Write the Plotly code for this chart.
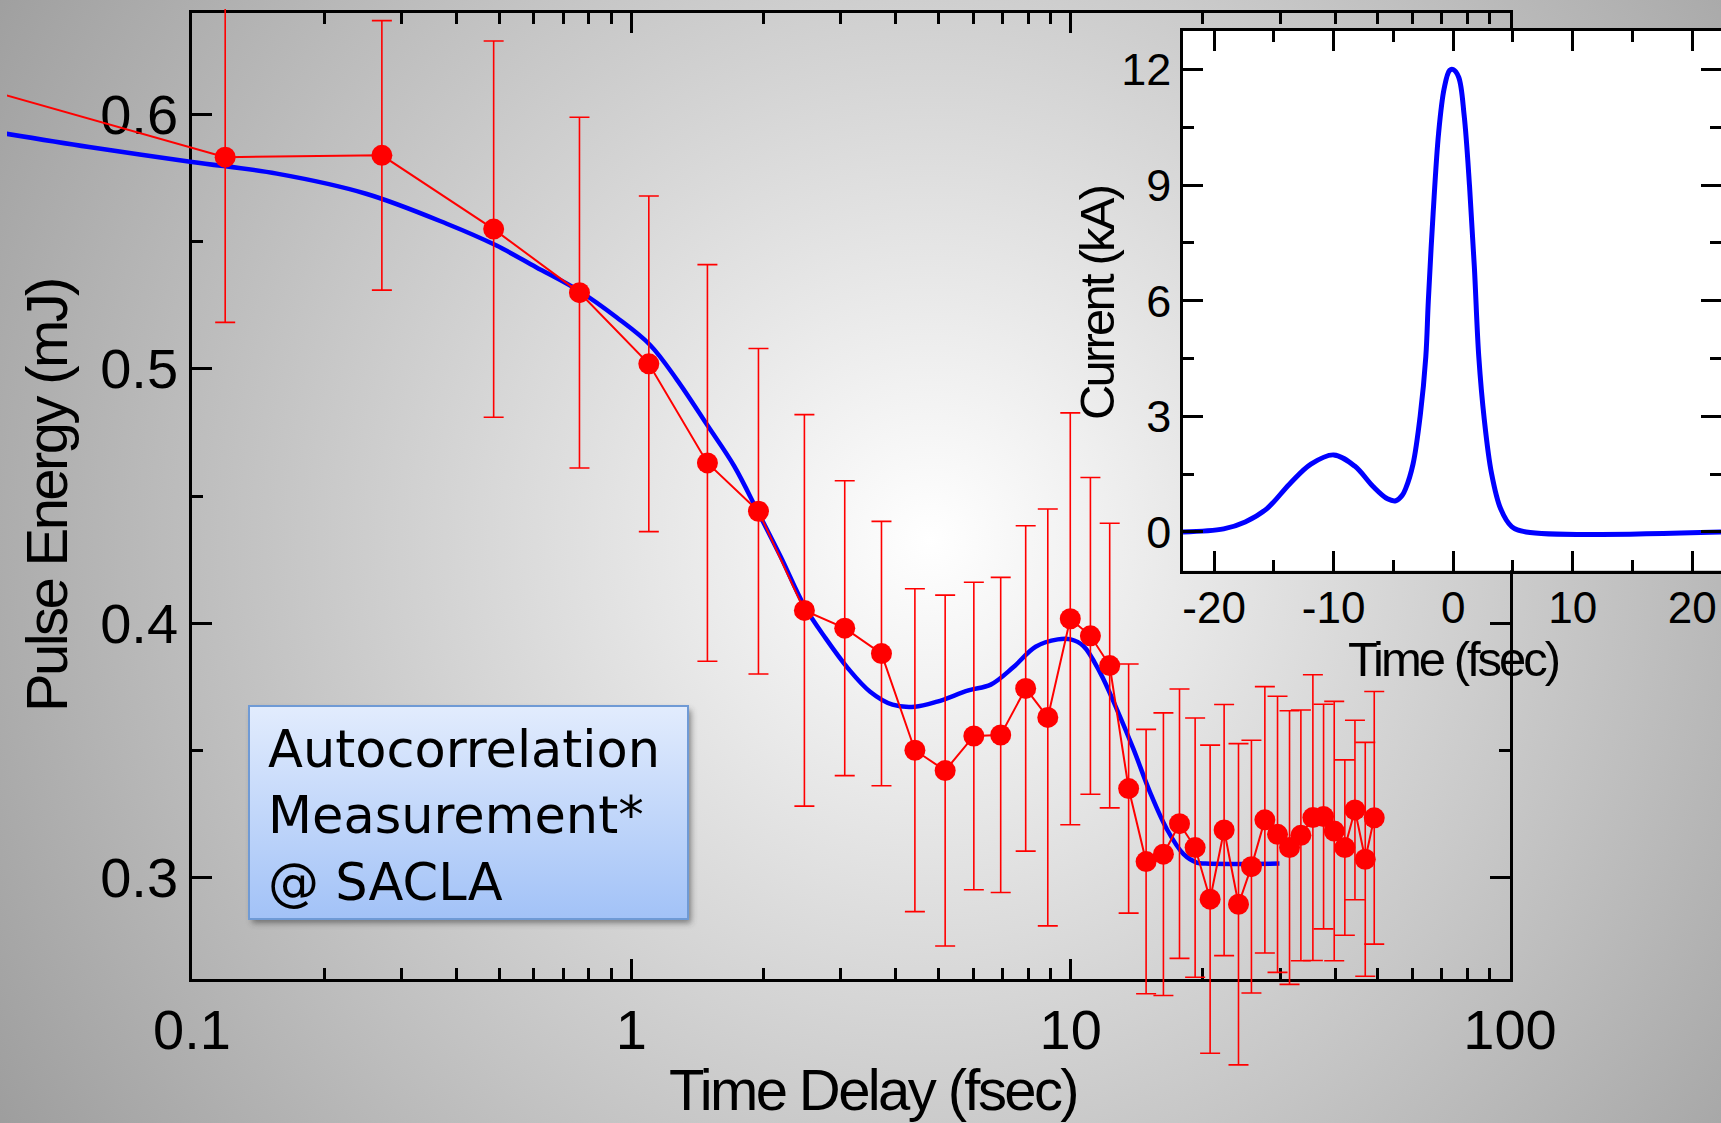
import base64
import plotly.graph_objects as go

# ---------------- data ----------------
# measured pulse energy vs. time delay (autocorrelation scan)
delay_fs = [0.030, 0.119, 0.2705, 0.486, 0.762, 1.096, 1.49, 1.947, 2.477, 3.06,
            3.71, 4.42, 5.18, 6.02, 6.93, 7.90, 8.87, 9.98, 11.09, 12.27,
            13.55, 14.85, 16.26, 17.69, 19.20, 20.77, 22.35, 24.10, 25.79, 27.67,
            29.57, 31.49, 33.42, 35.59, 37.64, 39.80, 42.08, 44.37, 46.83, 49.09]
pulse_mj = [0.6125, 0.5833, 0.584, 0.555, 0.530, 0.502, 0.463, 0.444, 0.405, 0.398,
            0.388, 0.350, 0.342, 0.3556, 0.356, 0.3743, 0.3629, 0.4017, 0.395, 0.3833,
            0.3349, 0.3062, 0.3091, 0.3211, 0.3117, 0.2914, 0.3186, 0.2894, 0.3042, 0.3226,
            0.3169, 0.3117, 0.3165, 0.3235, 0.3239, 0.3182, 0.3117, 0.3265, 0.3071, 0.3234]
pulse_err = [0.065, 0.065, 0.053, 0.074, 0.069, 0.066, 0.078, 0.064, 0.077, 0.058,
             0.052, 0.0635, 0.069, 0.0605, 0.062, 0.064, 0.082, 0.081, 0.0623, 0.056,
             0.049, 0.052, 0.0556, 0.053, 0.051, 0.0606, 0.0494, 0.0632, 0.0497, 0.0524,
             0.0543, 0.0538, 0.0493, 0.0562, 0.0442, 0.051, 0.0345, 0.0353, 0.046, 0.0497]

# simulated pulse energy from the current profile
model_fs = [0.0378, 0.0583, 0.100, 0.156, 0.249, 0.380, 0.492, 0.607, 0.762, 0.925,
            1.102, 1.268, 1.494, 1.714, 1.945, 2.188, 2.477, 2.767, 3.110, 3.496,
            3.931, 4.418, 4.968, 5.853, 6.58, 7.40, 8.32, 9.35, 10.0, 10.69,
            11.67, 12.74, 13.90, 15.17, 16.56, 18.07, 19.36, 20.3, 29.87]
model_mj = [0.5925, 0.5873, 0.5814, 0.5768, 0.5689, 0.5571, 0.5486, 0.5400, 0.5306, 0.5203,
            0.5095, 0.4959, 0.4775, 0.4618, 0.4435, 0.4261, 0.4067, 0.3941, 0.3823, 0.3730,
            0.3679, 0.3671, 0.3691, 0.3735, 0.3758, 0.3826, 0.3907, 0.3936, 0.3936, 0.3910,
            0.3805, 0.3661, 0.3504, 0.3333, 0.3189, 0.3091, 0.3058, 0.3054, 0.3054]

# electron bunch current profile (inset)
time_fs = [-22.6, -19.2, -17.4, -15.6, -13.7, -11.9, -10.0, -8.24, -6.7, -5.5,
           -4.8, -4.27, -3.97, -3.36, -2.75, -2.29, -2.08, -1.68, -1.22, -0.76,
           -0.3, 0.0, 0.46, 0.92, 1.37, 1.77, 2.14, 2.6, 3.2, 3.97,
           4.89, 6.1, 22.4]
current_ka = [0.0, 0.08, 0.26, 0.6, 1.24, 1.76, 2.0, 1.71, 1.18, 0.86,
              0.81, 0.95, 1.13, 1.76, 3.04, 4.55, 6.0, 8.26, 10.35, 11.5,
              11.98, 12.0, 11.8, 10.8, 8.96, 6.87, 4.55, 2.92, 1.53, 0.6,
              0.14, 0.0, 0.0]

main_xticks = [0.1, 1, 10, 100]
main_xticktext = ["0.1", "1", "10", "100"]
main_xminor = [m * d for d in (0.1, 1, 10) for m in range(2, 10)]
main_yticks = [0.3, 0.4, 0.5, 0.6]
main_yticktext = ["0.3", "0.4", "0.5", "0.6"]
main_yminor = [0.35, 0.45, 0.55]
inset_xticks = [-20, -10, 0, 10, 20]
inset_xticktext = ["-20", "-10", "0", "10", "20"]
inset_xminor = [-15, -5, 5, 15]
inset_yticks = [0, 3, 6, 9, 12]
inset_yticktext = ["0", "3", "6", "9", "12"]
inset_yminor = [1.5, 4.5, 7.5, 10.5]

# ---------------- geometry (pixels) ----------------
W, H = 1721, 1123
FL, FR, FT, FB = 192, 1510, 13, 979          # main frame
DL, DT = 7, 9                                # drawing window of the data layer
IL, IR, IT, IB = 1183, 1721, 31, 570.5       # inset frame
XLOG = (-1.0, 2.0)
YR = (0.26, 0.64)
IXR = (-22.6, 22.4)
IYR = (-1.0, 13.0)


def px(x):
    return x / W


def py(y):
    return 1 - y / H


ppd = (FR - FL) / (XLOG[1] - XLOG[0])
ppu = (FB - FT) / (YR[1] - YR[0])
data_xr = [XLOG[0] - (FL - DL) / ppd, XLOG[1] + (W - FR) / ppd]
data_yr = [YR[0] - (H - FB) / ppu, YR[1] + (FT - DT) / ppu]

RED = "#ff0000"
BLUE = "#0000ff"
TICKFONT = "Liberation Sans, Arial, sans-serif"

# ---------------- background artwork ----------------
bx0, by0, bx1, by1 = 249, 706, 688, 919
svg = f'''<svg xmlns="http://www.w3.org/2000/svg" width="{W}" height="{H}" viewBox="0 0 {W} {H}">
<defs>
<radialGradient id="bg" gradientUnits="userSpaceOnUse" cx="930" cy="540" r="1150">
<stop offset="0" stop-color="#ffffff"/><stop offset="1" stop-color="#999999"/>
</radialGradient>
<linearGradient id="box" x1="0" y1="0" x2="0" y2="1">
<stop offset="0" stop-color="#e2ecfd"/><stop offset="1" stop-color="#a2c2f7"/>
</linearGradient>
<filter id="sh" x="-10%" y="-10%" width="130%" height="140%"><feGaussianBlur stdDeviation="3"/></filter>
</defs>
<rect x="0" y="0" width="{W}" height="{H}" fill="url(#bg)"/>
<rect x="{bx0+3}" y="{by0+4}" width="{bx1-bx0}" height="{by1-by0}" fill="#333333" opacity="0.55" filter="url(#sh)"/>
<rect x="{bx0}" y="{by0}" width="{bx1-bx0}" height="{by1-by0}" fill="url(#box)" stroke="#6f9ad5" stroke-width="2"/>
</svg>'''
bg_uri = "data:image/svg+xml;base64," + base64.b64encode(svg.encode()).decode()

fig = go.Figure()

# main frame subplot (axes only)
fig.add_trace(go.Scatter(x=[], y=[], xaxis="x", yaxis="y", showlegend=False))

# data layer spanning the whole canvas, aligned to the main frame scales
fig.add_trace(go.Scatter(
    x=model_fs, y=model_mj, xaxis="x2", yaxis="y2", mode="lines",
    line=dict(color=BLUE, width=4.5, shape="spline", smoothing=1.0),
    showlegend=False, hoverinfo="skip"))
fig.add_trace(go.Scatter(
    x=delay_fs, y=pulse_mj, xaxis="x2", yaxis="y2", mode="lines+markers",
    line=dict(color=RED, width=2),
    marker=dict(color=RED, size=21),
    error_y=dict(type="data", array=pulse_err, color=RED, thickness=1.6, width=10),
    showlegend=False))

# inset: current profile
fig.add_trace(go.Scatter(
    x=time_fs, y=current_ka, xaxis="x3", yaxis="y3", mode="lines",
    line=dict(color=BLUE, width=5, shape="spline", smoothing=1.0),
    showlegend=False))

frame = dict(showline=True, linecolor="black", linewidth=2.5, mirror="ticks",
             ticks="inside", tickcolor="black", tickwidth=2.5, showgrid=False,
             zeroline=False, automargin=False)

fig.update_layout(
    width=W, height=H, template="none",
    margin=dict(l=0, r=0, t=0, b=0, pad=0),
    paper_bgcolor="#b0b0b0", plot_bgcolor="rgba(0,0,0,0)",
    xaxis=dict(type="log", domain=[px(FL), px(FR)], range=list(XLOG),
               tickvals=main_xticks, ticktext=main_xticktext, ticklen=20,
               tickfont=dict(family=TICKFONT, size=56, color="black"),
               minor=dict(tickvals=main_xminor, ticklen=11, tickwidth=2.5,
                          tickcolor="black", ticks="inside", showgrid=False),
               anchor="y", **frame),
    yaxis=dict(domain=[py(FB), py(FT)], range=list(YR),
               tickvals=main_yticks, ticktext=main_yticktext,
               ticklen=20, tickfont=dict(family=TICKFONT, size=56, color="black"),
               minor=dict(tickvals=main_yminor, ticklen=11, tickwidth=2.5,
                          tickcolor="black", ticks="inside", showgrid=False),
               anchor="x", **frame),
    xaxis2=dict(type="log", domain=[px(DL), 1.0], range=data_xr, visible=False,
                anchor="y2"),
    yaxis2=dict(domain=[0.0, py(DT)], range=data_yr, visible=False, anchor="x2"),
    xaxis3=dict(domain=[px(IL), px(IR)], range=list(IXR),
                tickvals=inset_xticks, ticktext=inset_xticktext, ticklen=20,
                ticklabelstandoff=-3,
                tickfont=dict(family=TICKFONT, size=44, color="black"),
                minor=dict(tickvals=inset_xminor, ticklen=11, tickwidth=2.5,
                           tickcolor="black", ticks="inside", showgrid=False),
                anchor="y3", **frame),
    yaxis3=dict(domain=[py(IB), py(IT)], range=list(IYR),
                tickvals=inset_yticks, ticktext=inset_yticktext, ticklen=20,
                tickfont=dict(family=TICKFONT, size=45, color="black"),
                minor=dict(tickvals=inset_yminor, ticklen=11, tickwidth=2.5,
                           tickcolor="black", ticks="inside", showgrid=False),
                anchor="x3", **frame),
    images=[dict(source=bg_uri, xref="paper", yref="paper", x=0, y=1,
                 sizex=1, sizey=1, xanchor="left", yanchor="top",
                 sizing="stretch", layer="below")],
    shapes=[dict(type="rect", xref="x3", yref="y3", x0=IXR[0], x1=IXR[1],
                 y0=IYR[0], y1=IYR[1], fillcolor="white", line=dict(width=0),
                 layer="below")],
)

title_font = dict(family=TICKFONT, size=58, color="black")
inset_title_font = dict(family=TICKFONT, size=49, color="black")


def tight(text, sp):
    return f'<span style="letter-spacing:{sp}px">{text}</span>'


fig.add_annotation(text=tight("Time Delay (fsec)", -2.6), xref="paper", yref="paper",
                   x=px(873), y=py(1089), xanchor="center", yanchor="middle",
                   showarrow=False, font=title_font)
fig.add_annotation(text=tight("Pulse Energy (mJ)", -2.6), xref="paper", yref="paper",
                   x=px(46), y=py(496), xanchor="center", yanchor="middle",
                   textangle=-90, showarrow=False, font=title_font)
fig.add_annotation(text=tight("Current (kA)", -2.8), xref="paper", yref="paper",
                   x=px(1097), y=py(303), xanchor="center", yanchor="middle",
                   textangle=-90, showarrow=False, font=inset_title_font)
fig.add_annotation(text=tight("Time (fsec)", -3.0), xref="paper", yref="paper",
                   x=px(1453), y=py(659), xanchor="center", yanchor="middle",
                   borderpad=0, showarrow=False, font=inset_title_font)
fig.add_annotation(text="Autocorrelation<br>Measurement*<br>@ SACLA",
                   xref="paper", yref="paper", x=px(266), y=py(718),
                   xanchor="left", yanchor="top", align="left", showarrow=False,
                   font=dict(family="DejaVu Sans, Verdana, sans-serif", size=51,
                             color="black"))

fig.write_html("out.html")
